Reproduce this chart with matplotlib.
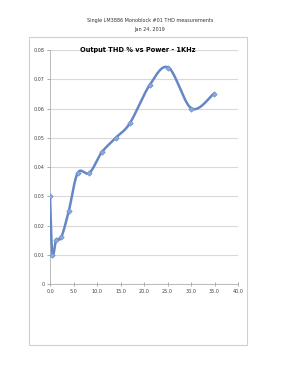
import numpy as np
import matplotlib.pyplot as plt
from matplotlib.patches import Rectangle

# power (W) and THD (%)
power = [0.0, 0.5, 1.3, 2.4, 4.0, 5.9, 8.4, 11.0, 14.0, 17.0, 21.2, 25.2, 30.1, 34.8]
thd = [0.030, 0.010, 0.015, 0.016, 0.025, 0.038, 0.038, 0.045, 0.050, 0.055, 0.068, 0.074, 0.060, 0.065]

xticks = [0, 5, 10, 15, 20, 25, 30, 35, 40]
yticks = [0, 0.01, 0.02, 0.03, 0.04, 0.05, 0.06, 0.07, 0.08]
ytick_labels = ["0", "0.01", "0.02", "0.03", "0.04", "0.05", "0.06", "0.07", "0.08"]


def smooth(x, y, n=30):
    # Excel-like smoothed line (cubic bezier, Catmull-Rom control points)
    x = np.asarray(x, float)
    y = np.asarray(y, float)
    px = np.concatenate([[x[0]], x, [x[-1]]])
    py = np.concatenate([[y[0]], y, [y[-1]]])
    xs, ys = [], []
    t = np.linspace(0, 1, n)
    for i in range(len(x) - 1):
        p0 = np.array([px[i + 1], py[i + 1]])
        p3 = np.array([px[i + 2], py[i + 2]])
        p1 = p0 + (np.array([px[i + 2], py[i + 2]]) - np.array([px[i], py[i]])) / 6
        p2 = p3 - (np.array([px[i + 3], py[i + 3]]) - np.array([px[i + 1], py[i + 1]])) / 6
        b = ((1 - t) ** 3)[:, None] * p0 + (3 * (1 - t) ** 2 * t)[:, None] * p1 \
            + (3 * (1 - t) * t ** 2)[:, None] * p2 + (t ** 3)[:, None] * p3
        xs.extend(b[:, 0])
        ys.extend(b[:, 1])
    return xs, ys


fig = plt.figure(figsize=(3.0, 3.89), dpi=100)

fig.text(0.5, 0.936, "Single LM3886 Monoblock #01 THD measurements\nJan 24, 2019",
         ha="center", va="center", fontsize=3.5, color="#333333", linespacing=1.9)

fig.patches.append(Rectangle((0.0977, 0.1123), 0.7266, 0.7926, transform=fig.transFigure,
                             fill=False, edgecolor="#d0d0d0", linewidth=0.8))

ax = fig.add_axes([0.1667, 0.2699, 0.6267, 0.6015])
sx, sy = smooth(power, thd)
ax.plot(sx, sy, color="#6588c4", linewidth=1.8, solid_capstyle="round", zorder=3)
ax.plot(power, thd, linestyle="none", marker="D", markersize=2.8,
        color="#8ba8dc", markeredgecolor="#6588c4", markeredgewidth=0.4, zorder=4)

ax.set_xlim(0, 40)
ax.set_ylim(0, 0.08)
ax.set_xticks(xticks)
ax.set_xticklabels(["%.1f" % v for v in xticks])
ax.set_yticks(yticks)
ax.set_yticklabels(ytick_labels)
ax.tick_params(axis="both", labelsize=3.5, colors="#888888", labelcolor="#444444",
               length=2, width=0.5, pad=2)
ax.tick_params(axis="x", direction="inout", length=3)
ax.grid(axis="y", color="#d9d9d9", linewidth=0.8)
ax.set_axisbelow(True)
for s in ["top", "right"]:
    ax.spines[s].set_visible(False)
ax.spines["left"].set_color("#b0b0b0")
ax.spines["bottom"].set_color("#b0b0b0")
ax.spines["left"].set_linewidth(0.6)
ax.spines["bottom"].set_linewidth(0.6)

ax.set_title("Output THD % vs Power - 1KHz", fontsize=4.8, fontweight="bold",
             y=1.0, x=0.468, pad=0, va="center")

fig.savefig("out.png", dpi=100)
